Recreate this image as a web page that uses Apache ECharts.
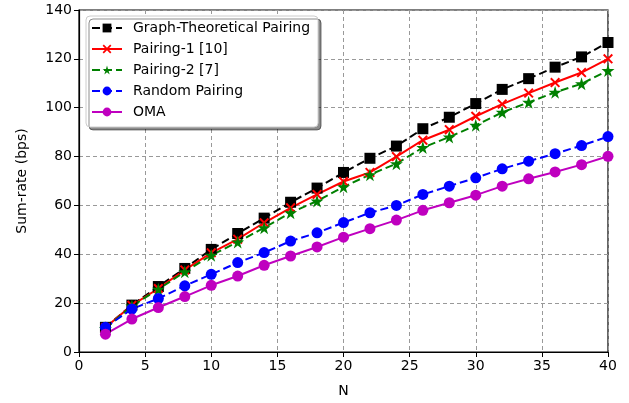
<!DOCTYPE html>
<html><head><meta charset="utf-8">
<script src="https://cdn.jsdelivr.net/npm/echarts@6/dist/echarts.min.js"></script>
<style>html,body{margin:0;padding:0;background:#fff}#c{width:629px;height:403px}</style>
</head><body><div id="c"></div>
<script>
const N = [2,4,6,8,10,12,14,16,18,20,22,24,26,28,30,32,34,36,38,40];
const graphTheoretical = [10.1,19.2,26.8,34.2,42,48.5,54.8,61.3,67.1,73.5,79.3,84.3,91.4,96.1,101.7,107.5,111.9,116.6,120.8,126.7];
const pairing1 = [10,19.1,26,33.6,40.6,46.2,52.9,59,64.5,69.8,73.5,80,86.7,91,96.5,101.5,106,110.3,114.4,120];
const pairing2 = [9.6,18.8,25.7,32.8,39.6,45,50.9,57,61.8,67.6,72.6,77.1,83.7,88,92.8,98.1,102.2,106.3,109.8,115.2];
const randomPairing = [10.1,17.6,21.9,27.1,31.8,36.6,40.7,45.4,48.8,53,57,60,64.5,67.9,71.3,75,78.1,81.2,84.5,88.2];
const oma = [7.3,13.5,18.2,22.7,27.3,31.1,35.5,39.3,43,47,50.5,54,58,61.1,64.2,67.9,70.9,73.7,76.7,80.1];
const seriesNames = ['Graph-Theoretical Pairing','Pairing-1 [10]','Pairing-2 [7]','Random Pairing','OMA'];

const pair = arr => N.map((n,i)=>[n,arr[i]]);
const FONT = 'DejaVu Sans';
const xSym = 'path://M0,1.4L1.4,0L5,3.6L8.6,0L10,1.4L6.4,5L10,8.6L8.6,10L5,6.4L1.4,10L0,8.6L3.6,5Z';
const starSym = 'path://M50,0L61,35L98,35L68,57L79,91L50,70L21,91L32,57L2,35L39,35Z';
const dash = [8,4];

function mk(name, data, color, symbol, size, dashed){
  return {
    name, type:'line', data: pair(data), symbol, symbolSize: size,
    showAllSymbol: true,
    lineStyle:{color, width:2, type: dashed ? dash : 'solid'},
    itemStyle:{color, borderWidth:0},
    emphasis:{disabled:true}, animation:false
  };
}

const chart = echarts.init(document.getElementById('c'), null, {renderer:'canvas'});
chart.setOption({
  animation:false,
  backgroundColor:'#fff',
  grid:{left:79, right:21, top:10, bottom:50, show:true, borderColor:'#000', borderWidth:1.2, backgroundColor:'transparent'},
  xAxis:{type:'value', min:0, max:40, interval:5, name:'N', nameLocation:'middle', nameGap:32,
    nameTextStyle:{fontFamily:FONT, fontSize:14, color:'#000'},
    axisLine:{show:true, onZero:false, lineStyle:{color:'#000', width:1.2}},
    axisTick:{show:true, length:5, inside:false, lineStyle:{color:'#000', width:1}},
    axisLabel:{fontFamily:FONT, fontSize:14, color:'#000', margin:7},
    splitLine:{show:true, lineStyle:{color:'#999', width:1, type:[4,3]}}},
  yAxis:{type:'value', min:0, max:140, interval:20, name:'Sum-rate (bps)', nameLocation:'middle', nameGap:50,
    nameTextStyle:{fontFamily:FONT, fontSize:14, color:'#000'},
    axisLine:{show:true, onZero:false, lineStyle:{color:'#000', width:1.2}},
    axisTick:{show:true, length:5, inside:false, lineStyle:{color:'#000', width:1}},
    axisLabel:{fontFamily:FONT, fontSize:14, color:'#000', margin:7},
    splitLine:{show:true, lineStyle:{color:'#999', width:1, type:[4,3]}}},
  legend:{show:true, orient:'vertical', left:86, top:16, itemWidth:30, itemHeight:11, itemGap:7,
    padding:[5,8,8,5],
    backgroundColor:'#fff', borderColor:'#ccc', borderWidth:1, borderRadius:4,
    shadowColor:'rgba(0,0,0,0.45)', shadowBlur:0, shadowOffsetX:3, shadowOffsetY:3,
    textStyle:{fontFamily:FONT, fontSize:14, color:'#000', padding:[0,0,0,6]},
    data: seriesNames},
  series:[
    mk(seriesNames[0], graphTheoretical, '#000000', 'rect', 11, true),
    mk(seriesNames[1], pairing1, '#ff0000', xSym, 10, false),
    mk(seriesNames[2], pairing2, '#008000', starSym, 13, true),
    mk(seriesNames[3], randomPairing, '#0000ff', 'circle', 11, true),
    mk(seriesNames[4], oma, '#bf00bf', 'circle', 11, false)
  ]
});
</script></body></html>
